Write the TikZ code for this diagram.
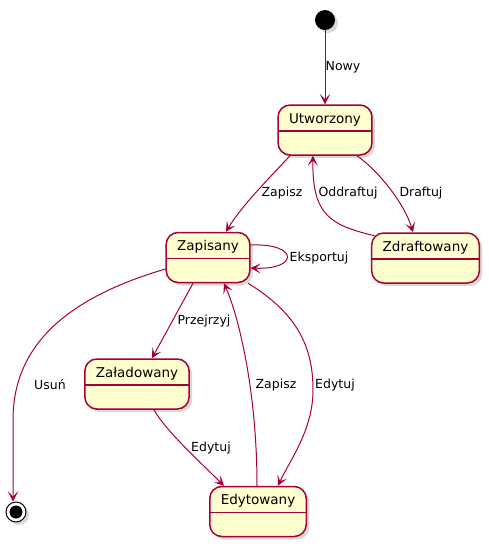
\documentclass[tikz,border=0pt]{standalone}
\usepackage{fontspec}
\setmainfont{DejaVu Sans}
\usetikzlibrary{arrows.meta,shadows}
\definecolor{umlred}{HTML}{A80036}
\definecolor{umlfill}{HTML}{FEFECE}
\tikzset{
  stanbox/.style={
    % The shape:
    rectangle,
    rounded corners=12pt,
    % The size:
    inner xsep=11pt, inner ysep=0pt,
    text height=18pt, text depth=32pt,
    % The border:
    line width=1.5pt,
    draw=umlred,
    % The filling:
    fill=umlfill,
    drop shadow={shadow xshift=3pt,shadow yshift=-3pt,opacity=0.3},
    % The separator:
    path picture={\draw[umlred,line width=1.5pt]
      ([yshift=-26pt]path picture bounding box.north west) --
      ([yshift=-26pt]path picture bounding box.north east);},
    font=\fontsize{13.5}{16}\selectfont},
  startpoint/.style={
    % The shape:
    circle,
    minimum size=20pt, inner sep=0pt,
    % The rest
    fill=black,
    drop shadow={shadow xshift=3pt,shadow yshift=-3pt,opacity=0.3}},
  endpoint/.style={
    % The shape:
    circle,
    minimum size=20pt, inner sep=0pt,
    % The rest
    line width=1pt, draw=black, fill=white,
    drop shadow={shadow xshift=3pt,shadow yshift=-3pt,opacity=0.3},
    path picture={\fill[black] (path picture bounding box.center) circle (6.5pt);}},
  elabel/.style={
    inner sep=0pt,
    font=\fontsize{12.5}{15}\selectfont}
}

\begin{document}
\begin{tikzpicture}[x=1pt,y=-1pt,
                    trans/.style={draw=umlred,line width=1pt,
                      -{Stealth[length=10pt,width=10pt,inset=5pt]}}]
  \useasboundingbox (0,0) rectangle (489,547);

  % States
  \node (poczatek)    [startpoint] at (325,20)    {};
  \node (utworzony)   [stanbox]    at (325,130)   {Utworzony};
  \node (zapisany)    [stanbox]    at (208,257.5) {Zapisany};
  \node (zdraftowany) [stanbox]    at (425.5,258) {Zdraftowany};
  \node (zaladowany)  [stanbox]    at (137,384)   {Załadowany};
  \node (edytowany)   [stanbox]    at (258,511.5) {Edytowany};
  \node (koniec)      [endpoint]   at (16,512)    {};

  % Transitions
  \draw[trans] (poczatek) -- (utworzony);
  \draw[trans] ([xshift=-35pt]utworzony.south)
    .. controls (275,172) and (242,205) .. ([xshift=18pt]zapisany.north);
  \draw[trans] ([xshift=32pt]utworzony.south)
    .. controls (380,172) and (405,205) .. ([xshift=-12.5pt]zdraftowany.north);
  \draw[trans] ([xshift=3.5pt,yshift=-3.5pt]zdraftowany.north west)
    .. controls (330,225) and (312,215) .. ([xshift=-12pt]utworzony.south);
  \draw[trans] ([yshift=12.5pt]zapisany.east)
    .. controls (299,243) and (299,270) .. ([yshift=-10.5pt]zapisany.east);
  \draw[trans] ([yshift=-11.5pt]zapisany.west)
    .. controls (60,300) and (13,350) .. (13,420) -- ([xshift=-3pt]koniec.north);
  \draw[trans] ([xshift=-15pt]zapisany.south) -- ([xshift=15pt]zaladowany.north);
  \draw[trans] ([xshift=17pt]zaladowany.south)
    .. controls (165,430) and (200,462) .. ([xshift=-34pt]edytowany.north);
  \draw[trans] ([xshift=-1pt]edytowany.north)
    .. controls (257,395) and (240,320) .. ([xshift=16pt]zapisany.south);
  \draw[trans] ([xshift=40pt]zapisany.south)
    .. controls (300,315) and (313,350) .. (313,390)
    .. controls (313,430) and (290,460) .. ([xshift=20pt]edytowany.north);

  % Labels
  \node (lnowy)      [elabel] at (343,67)  {Nowy};
  \node (lzapisz)    [elabel] at (282,193) {Zapisz};
  \node (loddraftuj) [elabel] at (348,193) {Oddraftuj};
  \node (ldraftuj)   [elabel] at (421,193) {Draftuj};
  \node (leksportuj) [elabel] at (319,258) {Eksportuj};
  \node (lprzejrzyj) [elabel] at (204,321) {Przejrzyj};
  \node (lusun)      [elabel] at (50,385)  {Usuń};
  \node (ledytuj)    [elabel] at (211,448) {Edytuj};
  \node (lzapisz2)   [elabel] at (276,385) {Zapisz};
  \node (ledytuj2)   [elabel] at (335,385) {Edytuj};
\end{tikzpicture}
\end{document}
